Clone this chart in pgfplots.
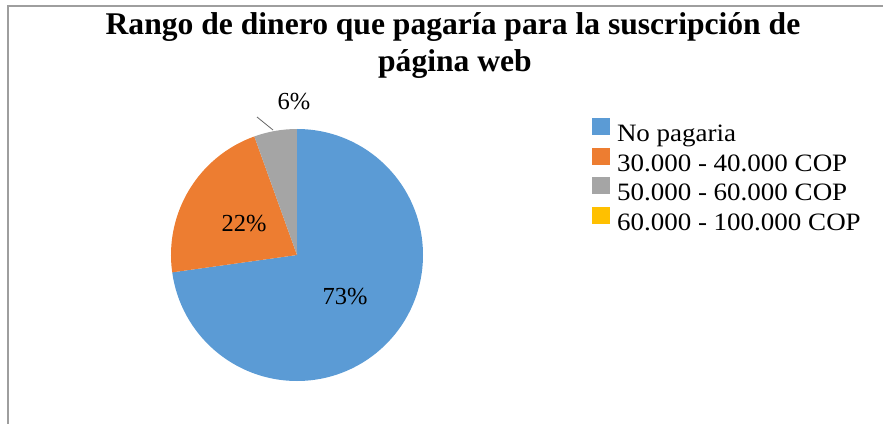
\documentclass[border=0pt]{standalone}
\usepackage{pgfplots}
\usepackage{pgfplotstable}
\pgfplotsset{compat=1.18}
\usepackage{fontspec}
\setmainfont{Liberation Serif}
\definecolor{pieblue}{HTML}{5B9BD5}
\definecolor{pieorange}{HTML}{ED7D31}
\definecolor{piegray}{HTML}{A5A5A5}
\definecolor{pieyellow}{HTML}{FFC000}
\pgfplotstableread{
value
72.8
21.7
5.5
0
}\piedata
\newcommand{\legtxt}[1]{\scalebox{1.08}[1]{#1}}
\begin{document}
\begin{tikzpicture}
\pgfplotstablegetelem{0}{value}\of\piedata \xdef\va{\pgfplotsretval}
\pgfplotstablegetelem{1}{value}\of\piedata \xdef\vb{\pgfplotsretval}
\pgfplotstablegetelem{2}{value}\of\piedata \xdef\vc{\pgfplotsretval}
\pgfplotstablegetelem{3}{value}\of\piedata \xdef\vd{\pgfplotsretval}
\pgfmathsetmacro{\tot}{\va+\vb+\vc+\vd}
\pgfmathsetmacro{\fa}{\va/\tot}
\pgfmathsetmacro{\fb}{\vb/\tot}
\pgfmathsetmacro{\fc}{\vc/\tot}
\pgfmathsetmacro{\aA}{90}
\pgfmathsetmacro{\aB}{90-360*\fa}
\pgfmathsetmacro{\aC}{\aB-360*\fb}
\pgfmathsetmacro{\aD}{\aC-360*\fc}
\xdef\aA{\aA}\xdef\aB{\aB}\xdef\aC{\aC}\xdef\aD{\aD}
\useasboundingbox (0,0) rectangle (883bp,424bp);
\begin{axis}[
  at={(0,0)}, anchor=origin,
  x=1bp, y=1bp,
  xmin=0, xmax=883, ymin=0, ymax=424,
  hide axis, clip=false,
  legend style={at={(axis cs:592,306)}, anchor=north west, draw=none, fill=none,
    font=\fontsize{25bp}{28bp}\selectfont, row sep=0bp, inner sep=0pt, outer sep=0pt,
    nodes={inner sep=0pt, text height=17bp, text depth=6bp},
    /tikz/every odd column/.append style={column sep=7bp}},
  legend cell align=left,
  legend image code/.code={\fill[#1, draw=none] (0bp,1bp) rectangle (18bp,18bp);},
]
\addlegendimage{fill=pieblue, draw=none}\addlegendentry{\legtxt{No pagaria}}
\addlegendimage{fill=pieorange, draw=none}\addlegendentry{\legtxt{30.000 - 40.000 COP}}
\addlegendimage{fill=piegray, draw=none}\addlegendentry{\legtxt{50.000 - 60.000 COP}}
\addlegendimage{fill=pieyellow, draw=none}\addlegendentry{\legtxt{60.000 - 100.000 COP}}
% border (top and left)
\draw[color=black!38, line width=1.5bp] (axis cs:8,0) -- (axis cs:8,418) -- (axis cs:883,418);
% pie
\fill[pieblue] (axis cs:297,169) -- ++(\aA:126bp) arc[start angle=\aA, end angle=\aB, radius=126bp] -- cycle;
\fill[pieorange] (axis cs:297,169) -- ++(\aB:126bp) arc[start angle=\aB, end angle=\aC, radius=126bp] -- cycle;
\fill[piegray] (axis cs:297,169) -- ++(\aC:126bp) arc[start angle=\aC, end angle=\aD, radius=126bp] -- cycle;
% labels
\node[font=\fontsize{24.5bp}{26bp}\selectfont] at (axis cs:345,127) {73\%};
\node[font=\fontsize{24.5bp}{26bp}\selectfont] at (axis cs:244,200) {22\%};
\node[font=\fontsize{24.5bp}{26bp}\selectfont] at (axis cs:294,322) {6\%};
\draw[color=black!60, line width=0.8bp] (axis cs:257,307) -- (axis cs:273,294);
% title
\node[font=\bfseries\fontsize{31.6bp}{34bp}\selectfont, anchor=base] at (axis cs:453,389) {Rango de dinero que pagaría para la suscripción de};
\node[font=\bfseries\fontsize{31.6bp}{34bp}\selectfont, anchor=base] at (axis cs:455,353) {página web};
\end{axis}
\end{tikzpicture}
\end{document}
